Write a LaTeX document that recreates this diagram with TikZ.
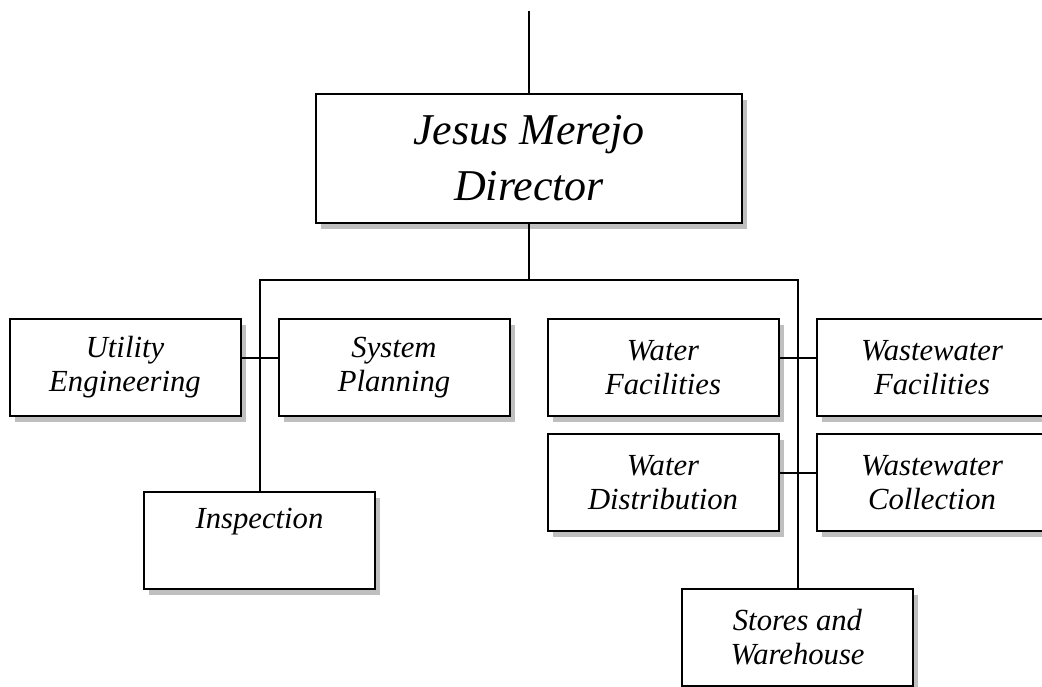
\documentclass[tikz,border=0pt]{standalone}
\usepackage{fontspec}
\setmainfont{Liberation Serif}
\usetikzlibrary{shadows,calc}
\tikzstyle{head} = [rectangle, draw=black, line width=1.5pt, fill=white, minimum width=319.5pt, minimum height=96.75pt, align=center, font=\fontsize{33pt}{42pt}\selectfont\itshape, drop shadow={shadow xshift=4pt, shadow yshift=-4.5pt, fill=black!25, opacity=1}]
\tikzstyle{unit} = [rectangle, draw=black, line width=1.5pt, fill=white, minimum width=173.25pt, minimum height=72.75pt, align=center, font=\fontsize{23pt}{25.5pt}\selectfont\itshape, drop shadow={shadow xshift=4pt, shadow yshift=-4.5pt, fill=black!25, opacity=1}]
\tikzstyle{link} = [line width=1.5pt]

\begin{document}
\begin{tikzpicture}[x=0.75pt, y=-0.75pt]
\useasboundingbox (0,0) rectangle (1042,686);

\node (director) [head] at (529,158.5) {Jesus Merejo\\Director};
\node (util) [unit] at (125,367.5) {Utility\\Engineering};
\node (sysplan) [unit] at (394,367.5) {System\\Planning};
\node (insp) [unit] at (259.5,540.5) {Inspection\\\strut};
\node (waterfac) [unit] at (663,367.5) {Water\\Facilities};
\node (wastefac) [unit] at (932,367.5) {Wastewater\\Facilities};
\node (waterdist) [unit] at (663,482.5) {Water\\Distribution};
\node (wastecoll) [unit] at (932,482.5) {Wastewater\\Collection};
\node (stores) [unit] at (797.5,637) {Stores and\\Warehouse};

\coordinate (top) at (529,11);
\coordinate (bar) at (529,280);

\draw [link] (top) -- (director.north);
\draw [link] (director.south) -- (bar);
\draw [link] (insp.north) -- (insp.north |- bar) -- (stores.north |- bar) -- (stores.north);
\draw [link] ([yshift=7.5pt]util.east) -- ([yshift=7.5pt]sysplan.west);
\draw [link] ([yshift=7.5pt]waterfac.east) -- ([yshift=7.5pt]wastefac.west);
\draw [link] ([yshift=7.5pt]waterdist.east) -- ([yshift=7.5pt]wastecoll.west);

\end{tikzpicture}
\end{document}
